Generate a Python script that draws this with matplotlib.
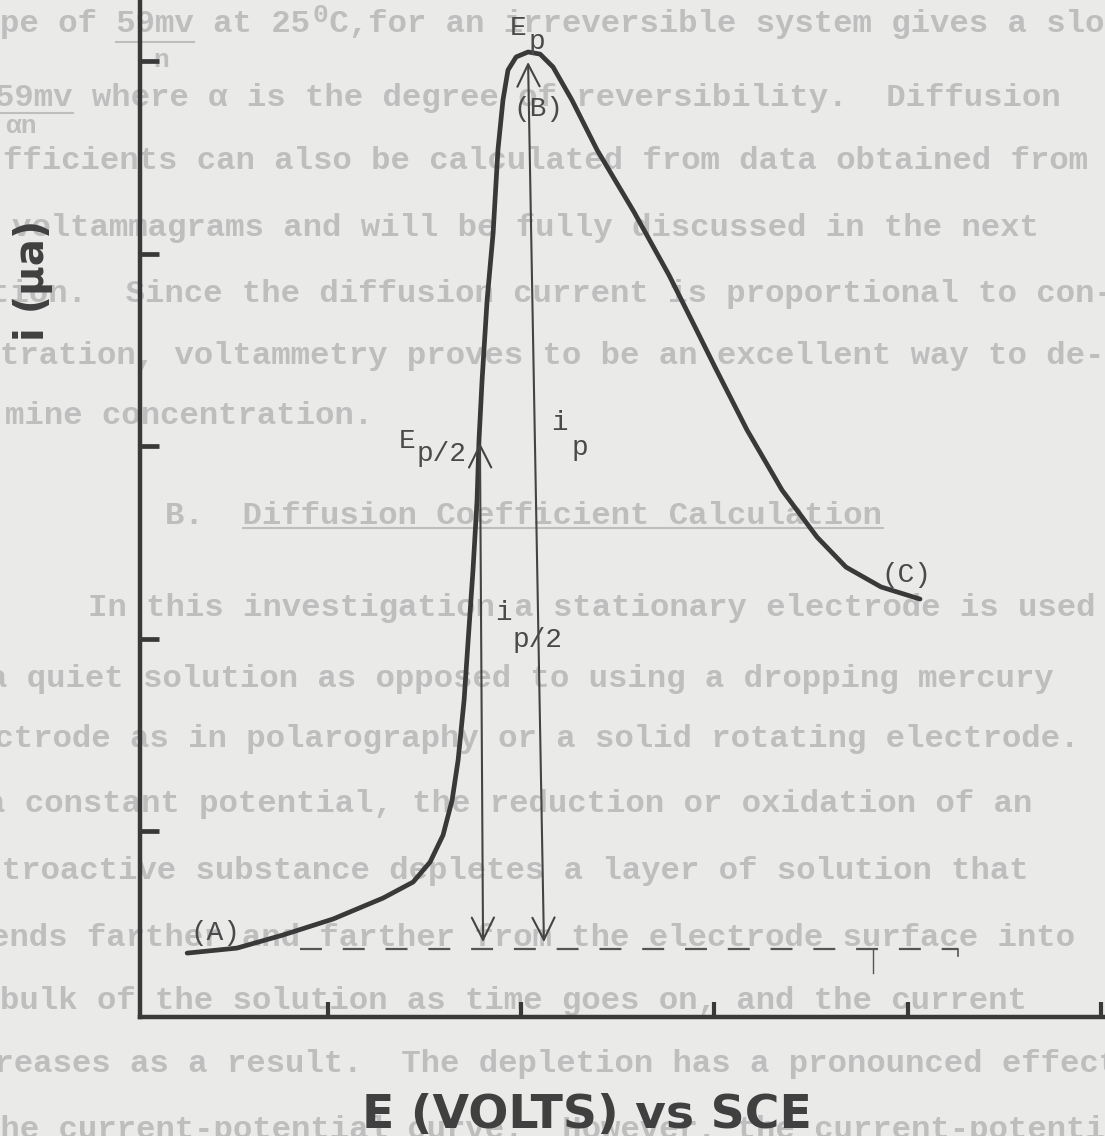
import matplotlib.pyplot as plt
from matplotlib.lines import Line2D

plt.rcParams['lines.scale_dashes'] = False

# hand drawn voltammogram (units = tick divisions)
curve_e = [0.272, 0.530, 0.768, 1.027, 1.286, 1.441, 1.529, 1.596, 1.643, 1.674,
           1.705, 1.726, 1.751, 1.772, 1.782, 1.798, 1.824, 1.855, 1.880, 1.906,
           1.932, 1.974, 2.036, 2.098, 2.165, 2.263, 2.393, 2.584, 2.765, 2.900,
           3.003, 3.169, 3.350, 3.531, 3.681, 3.862, 4.064]
curve_i = [0.366, 0.392, 0.460, 0.543, 0.652, 0.735, 0.839, 0.979, 1.161, 1.369,
           1.681, 1.992, 2.356, 2.719, 3.031, 3.343, 3.758, 4.106, 4.538, 4.797,
           4.953, 5.021, 5.047, 5.036, 4.969, 4.797, 4.538, 4.216, 3.888, 3.618,
           3.410, 3.083, 2.771, 2.527, 2.371, 2.268, 2.205]

x_ticks = [1, 2, 3, 4, 5]
y_ticks = [1, 2, 3, 4, 5]

baseline_e = [0.856, 4.260]
baseline_i = 0.387

# double headed arrows: (top e, top i, bottom e, bottom i)
ep_arrow = (2.036, 4.995, 2.118, 0.423)
ep2_arrow = (1.787, 3.016, 1.803, 0.423)

point_labels = ['(A)', '(B)', '(C)']
point_x = [0.416, 2.087, 3.991]
point_y = [0.470, 4.751, 2.330]

# main symbol + typed-lower subscript
sym_labels = [('E', 1.984, 5.135, 'p', 2.082, 5.062),
              ('E', 1.410, 2.990, 'p/2', 1.461, 2.922),
              ('i', 2.196, 3.083, 'p', 2.305, 2.953),
              ('i', 1.911, 2.096, 'p/2', 1.958, 1.956)]

# faint typewritten page behind the sketch (left px, baseline px, text)
page_lines = [
    (0, 32, "pe of 59mv at 25 C,for an irreversible system gives a slo"),
    (-5, 106, "59mv where \u03b1 is the degree of reversibility.  Diffusion"),
    (3, 169, "fficients can also be calculated from data obtained from"),
    (12, 236, "voltammagrams and will be fully discussed in the next"),
    (-10, 302, "tion.  Since the diffusion current is proportional to con-"),
    (0, 364, "tration, voltammetry proves to be an excellent way to de-"),
    (5, 424, "mine concentration."),
    (165, 524, "B.  Diffusion Coefficient Calculation"),
    (88, 616, "In this investigation a stationary electrode is used"),
    (-12, 687, "a quiet solution as opposed to using a dropping mercury"),
    (-25, 747, "ectrode as in polarography or a solid rotating electrode."),
    (-14, 812, "a constant potential, the reduction or oxidation of an"),
    (-37, 879, "ectroactive substance depletes a layer of solution that"),
    (-10, 946, "ends farther and farther from the electrode surface into"),
    (0, 1009, "bulk of the solution as time goes on, and the current"),
    (-25, 1072, "creases as a result.  The depletion has a pronounced effect"),
    (-19, 1138, "the current-potential curve.  However, the current-potential"),
]
page_extra = [(313, 22, "0"), (153, 67, "n"), (5, 133, "\u03b1n")]
page_rules = [(116, 194, 42), (0, 73, 113), (243, 883, 528)]

W, H = 1105, 1136
paper = '#eaeae8'
ink = '#393939'
faint = '#bebebe'

fig = plt.figure(figsize=(W / 100, H / 100), dpi=100, facecolor=paper)

def fx(px):
    return px / W

def fy(py):
    return 1 - py / H

for x0, yb, s in page_lines:
    fig.text(fx(x0), fy(yb), s, ha='left', va='baseline', family='Liberation Mono',
             weight='bold', fontsize=23.3, color=faint, zorder=1)
for x0, yb, s in page_extra:
    fig.text(fx(x0), fy(yb), s, ha='left', va='baseline', family='Liberation Mono',
             weight='bold', fontsize=19, color=faint, zorder=1)
for a, b, yy in page_rules:
    fig.add_artist(Line2D([fx(a), fx(b)], [fy(yy), fy(yy)], color=faint, lw=1.5,
                          transform=fig.transFigure, zorder=1))

ax = fig.add_axes([140 / W, (H - 1017) / H, (W - 140) / W, 1017 / H])
ax.set_zorder(2)
ax.patch.set_alpha(0)
ax.set_xlim(0.028, 5.021)
ax.set_ylim(0.034, 5.317)

for side in ['top', 'right']:
    ax.spines[side].set_visible(False)
for side in ['left', 'bottom']:
    ax.spines[side].set_linewidth(3.2)
    ax.spines[side].set_color(ink)

ax.set_xticks(x_ticks)
ax.set_yticks(y_ticks)
ax.tick_params(axis='x', direction='in', length=11, width=3, color=ink, labelbottom=False)
ax.tick_params(axis='y', direction='in', length=14, width=3.4, color=ink, labelleft=False)

ax.plot(curve_e, curve_i, color=ink, lw=3.4, solid_capstyle='round', solid_joinstyle='round')

ax.plot(baseline_e, [baseline_i, baseline_i], color='#555555', lw=1.6, dashes=(15.8, 15))
ax.plot([3.821, 3.821], [baseline_i, 0.262], color='#555555', lw=1.0)
ax.plot([4.260, 4.260], [baseline_i, 0.351], color='#555555', lw=1.2)

for a in (ep_arrow, ep2_arrow):
    ax.annotate('', xy=(a[0], a[1]), xytext=(a[2], a[3]),
                arrowprops=dict(arrowstyle='<->,head_length=0.8,head_width=0.4',
                                lw=1.5, color='#444444', shrinkA=0, shrinkB=0,
                                mutation_scale=20))

lab_font = dict(family='Liberation Mono', fontsize=20, color='#4a4a4a')
for s, x, y in zip(point_labels, point_x, point_y):
    ax.text(x, y, s, ha='center', va='center', **lab_font)
for s, x, y, sub, sx, sy in sym_labels:
    ax.text(x, y, s, ha='center', va='baseline', **lab_font)
    ax.text(sx, sy, sub, ha='left' if '/' in sub else 'center', va='baseline', **lab_font)

ax.set_xlabel('E (VOLTS) vs SCE', family='DejaVu Sans', weight='bold', fontsize=34,
              color='#404040', va='center')
ax.xaxis.set_label_coords((587 - 140) / 965, (1017 - 1115) / 1017)
ax.set_ylabel('i (\u03bca)', family='DejaVu Sans', weight='bold', fontsize=29,
              color='#404040', va='center')
ax.yaxis.set_label_coords((33 - 140) / 965, (1017 - 280) / 1017)

fig.savefig('out.png', dpi=100, facecolor=paper)
